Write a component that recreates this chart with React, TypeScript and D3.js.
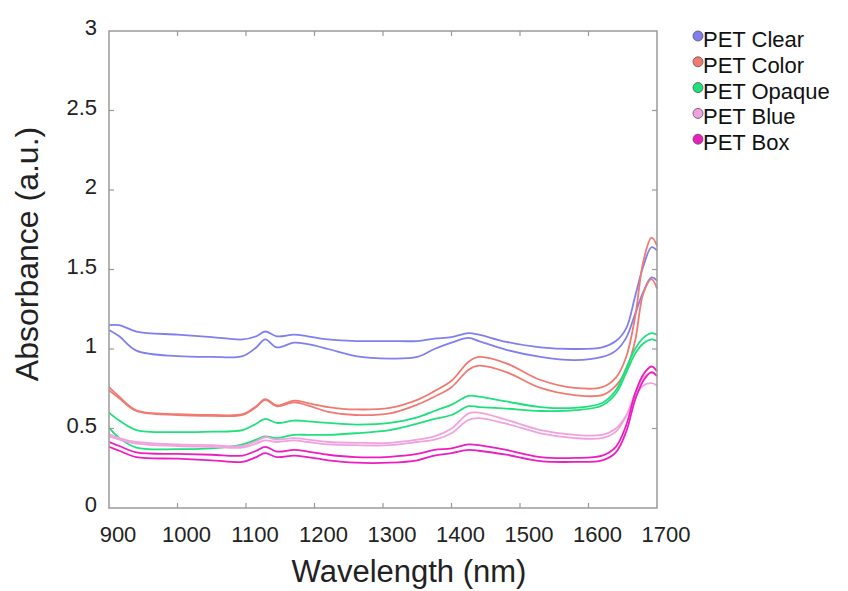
import React, { useRef, useEffect } from 'react';
import * as d3 from 'd3';

// wavelength grid (nm) shared by every spectrum
const wavelengths = [900, 915, 940, 1000, 1050, 1095, 1115, 1128, 1145, 1170, 1190, 1220, 1260, 1310, 1350, 1375, 1400, 1425, 1440, 1480, 1530, 1580, 1620, 1640, 1655, 1668, 1680, 1692, 1700];

const clearA = [1.15, 1.15, 1.11, 1.09, 1.075, 1.06, 1.08, 1.11, 1.08, 1.09, 1.08, 1.06, 1.05, 1.05, 1.05, 1.065, 1.075, 1.10, 1.09, 1.045, 1.01, 1.0, 1.01, 1.05, 1.13, 1.33, 1.52, 1.64, 1.62];
const clearB = [1.12, 1.08, 0.99, 0.955, 0.95, 0.955, 1.01, 1.06, 1.01, 1.04, 1.03, 1.0, 0.955, 0.94, 0.95, 1.0, 1.04, 1.07, 1.05, 0.995, 0.95, 0.93, 0.95, 0.99, 1.07, 1.22, 1.36, 1.45, 1.43];
const colorA = [0.76, 0.70, 0.615, 0.59, 0.585, 0.59, 0.64, 0.685, 0.645, 0.675, 0.66, 0.635, 0.62, 0.63, 0.68, 0.735, 0.80, 0.92, 0.95, 0.91, 0.805, 0.755, 0.76, 0.82, 0.95, 1.2, 1.55, 1.70, 1.65];
const colorB = [0.74, 0.69, 0.61, 0.585, 0.58, 0.585, 0.635, 0.68, 0.64, 0.665, 0.645, 0.605, 0.585, 0.595, 0.65, 0.70, 0.76, 0.87, 0.895, 0.855, 0.755, 0.71, 0.71, 0.77, 0.87, 1.05, 1.35, 1.44, 1.38];
const opaqueA = [0.60, 0.55, 0.49, 0.477, 0.48, 0.49, 0.53, 0.56, 0.535, 0.55, 0.545, 0.535, 0.525, 0.535, 0.57, 0.61, 0.65, 0.705, 0.70, 0.67, 0.635, 0.63, 0.66, 0.74, 0.88, 1.0, 1.07, 1.10, 1.09];
const opaqueB = [0.505, 0.44, 0.38, 0.37, 0.375, 0.40, 0.43, 0.45, 0.44, 0.46, 0.46, 0.46, 0.47, 0.49, 0.53, 0.56, 0.585, 0.64, 0.635, 0.625, 0.61, 0.615, 0.645, 0.72, 0.85, 0.97, 1.035, 1.06, 1.05];
const blueA = [0.465, 0.44, 0.415, 0.40, 0.395, 0.39, 0.42, 0.445, 0.43, 0.44, 0.43, 0.415, 0.41, 0.41, 0.43, 0.45, 0.50, 0.595, 0.60, 0.555, 0.49, 0.46, 0.46, 0.50, 0.58, 0.70, 0.77, 0.785, 0.77];
const blueB = [0.45, 0.43, 0.405, 0.39, 0.385, 0.38, 0.405, 0.425, 0.415, 0.425, 0.415, 0.40, 0.395, 0.395, 0.415, 0.43, 0.47, 0.555, 0.565, 0.53, 0.47, 0.44, 0.44, 0.48, 0.58, 0.72, 0.82, 0.85, 0.83];
const boxA = [0.415, 0.39, 0.35, 0.34, 0.335, 0.33, 0.36, 0.385, 0.355, 0.365, 0.355, 0.335, 0.32, 0.322, 0.34, 0.365, 0.375, 0.40, 0.395, 0.365, 0.32, 0.315, 0.33, 0.385, 0.52, 0.72, 0.84, 0.89, 0.86];
const boxB = [0.385, 0.36, 0.32, 0.31, 0.30, 0.29, 0.32, 0.345, 0.32, 0.33, 0.32, 0.30, 0.285, 0.285, 0.30, 0.33, 0.345, 0.365, 0.36, 0.335, 0.295, 0.29, 0.30, 0.35, 0.48, 0.68, 0.80, 0.855, 0.83];

const legendNames = ['PET Clear', 'PET Color', 'PET Opaque', 'PET Blue', 'PET Box'];
const legendColors = ['#7f7ff0', '#f07a72', '#1fe07c', '#f0a2de', '#ec1ec2'];

const series = [
  { name: 'PET Clear', values: [clearA, clearB] },
  { name: 'PET Color', values: [colorA, colorB] },
  { name: 'PET Opaque', values: [opaqueA, opaqueB] },
  { name: 'PET Blue', values: [blueA, blueB] },
  { name: 'PET Box', values: [boxA, boxB] },
];

const xTicks = [900, 1000, 1100, 1200, 1300, 1400, 1500, 1600, 1700];
const yTicks = [0, 0.5, 1, 1.5, 2, 2.5, 3];

const App = () => {
  const ref = useRef<SVGSVGElement>(null);

  useEffect(() => {
    const svg = d3.select(ref.current);
    svg.selectAll('*').remove();

    const left = 109, right = 657, top = 31, bottom = 508;
    const font = '"Liberation Sans", Arial, Helvetica, sans-serif';
    const axisColor = '#9a9a9a';

    const x = d3.scaleLinear().domain([900, 1700]).range([left, right]);
    const y = d3.scaleLinear().domain([0, 3]).range([bottom, top]);
    const color = d3.scaleOrdinal<string, string>().domain(legendNames).range(legendColors);

    const line = d3.line<number>()
      .x((d, i) => x(wavelengths[i]))
      .y(d => y(d))
      .curve(d3.curveCatmullRom.alpha(0.5));

    // spectra, drawn back to front
    series.forEach(s => {
      s.values.forEach(v => {
        svg.append('path')
          .attr('d', line(v))
          .attr('fill', 'none')
          .attr('stroke', color(s.name))
          .attr('stroke-width', 1.8)
          .attr('stroke-linejoin', 'round');
      });
    });

    // frame
    svg.append('rect')
      .attr('x', left).attr('y', top)
      .attr('width', right - left).attr('height', bottom - top)
      .attr('fill', 'none')
      .attr('stroke', axisColor)
      .attr('stroke-width', 1.5);

    const tickLen = 5;
    // x ticks, inward on bottom and top
    xTicks.forEach(t => {
      if (t === 900 || t === 1700) return;
      svg.append('line').attr('x1', x(t)).attr('x2', x(t))
        .attr('y1', bottom).attr('y2', bottom - tickLen)
        .attr('stroke', axisColor).attr('stroke-width', 1.2);
      svg.append('line').attr('x1', x(t)).attr('x2', x(t))
        .attr('y1', top).attr('y2', top + tickLen)
        .attr('stroke', axisColor).attr('stroke-width', 1.2);
    });
    yTicks.forEach(t => {
      if (t === 0 || t === 3) return;
      svg.append('line').attr('x1', left).attr('x2', left + tickLen)
        .attr('y1', y(t)).attr('y2', y(t))
        .attr('stroke', axisColor).attr('stroke-width', 1.2);
      svg.append('line').attr('x1', right).attr('x2', right - tickLen)
        .attr('y1', y(t)).attr('y2', y(t))
        .attr('stroke', axisColor).attr('stroke-width', 1.2);
    });

    // tick labels
    svg.append('g').selectAll('text')
      .data(xTicks)
      .enter()
      .append('text')
      .attr('x', d => x(d) + 9)
      .attr('y', 542)
      .attr('text-anchor', 'middle')
      .attr('font-family', font)
      .attr('font-size', 22)
      .attr('fill', '#222')
      .text(d => d);

    svg.append('g').selectAll('text')
      .data(yTicks)
      .enter()
      .append('text')
      .attr('x', 97)
      .attr('y', d => y(d) + 4)
      .attr('text-anchor', 'end')
      .attr('font-family', font)
      .attr('font-size', 22)
      .attr('fill', '#222')
      .text(d => d3.format('~g')(d));

    // axis titles
    svg.append('text')
      .attr('x', 409)
      .attr('y', 582)
      .attr('text-anchor', 'middle')
      .attr('font-family', font)
      .attr('font-size', 31)
      .attr('fill', '#222')
      .text('Wavelength (nm)');

    svg.append('text')
      .attr('transform', 'translate(38,254) rotate(-90)')
      .attr('text-anchor', 'middle')
      .attr('font-family', font)
      .attr('font-size', 32)
      .attr('fill', '#222')
      .text('Absorbance (a.u.)');

    // legend
    const legend = svg.append('g');
    legendNames.forEach((name, i) => {
      const cy = 39 + i * 25.8;
      legend.append('circle')
        .attr('cx', 698).attr('cy', cy - 3).attr('r', 5)
        .attr('fill', color(name))
        .attr('stroke', '#555')
        .attr('stroke-width', 0.8);
      legend.append('text')
        .attr('x', 703)
        .attr('y', cy + 8)
        .attr('font-family', font)
        .attr('font-size', 22)
        .attr('fill', '#111')
        .text(name);
    });
  }, []);

  return (
    <svg
      ref={ref}
      width="848"
      height="591"
      style={{ position: 'absolute', left: 0, top: 0, background: '#fff' }}
    ></svg>
  );
};

export default App;
